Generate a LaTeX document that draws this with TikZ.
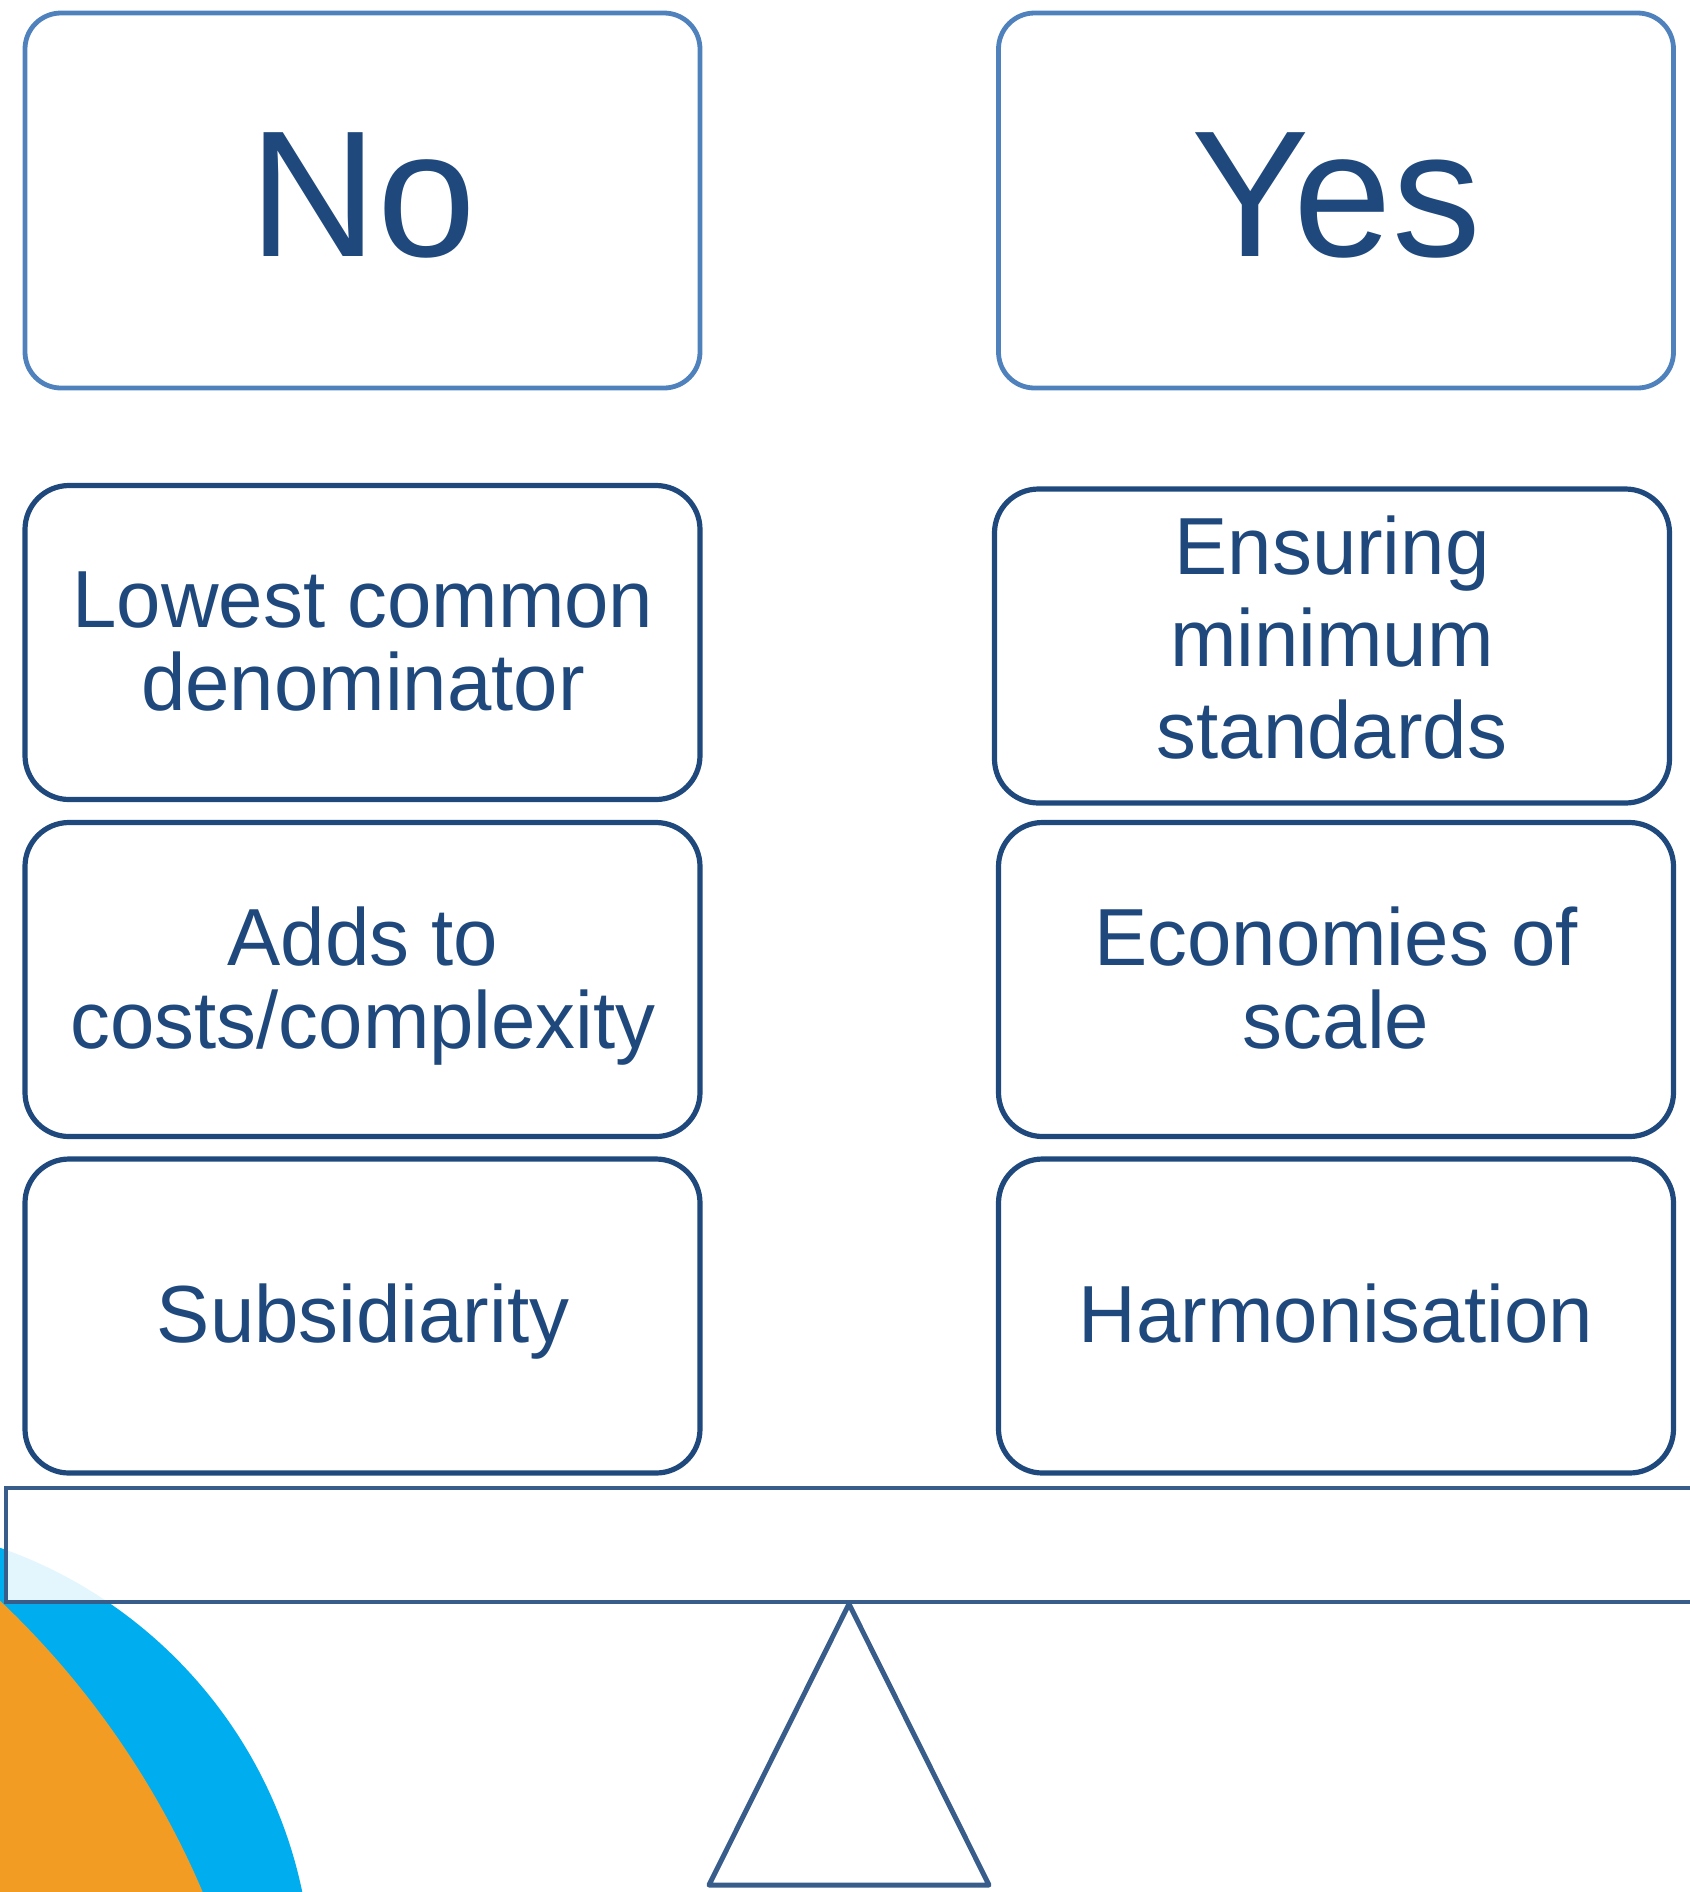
\documentclass[tikz,border=0pt]{standalone}
\usepackage{fontspec}
\setmainfont[FakeStretch=0.985]{Liberation Sans}
\definecolor{navy}{HTML}{1F497D}
\definecolor{topblue}{HTML}{4F81BD}
\definecolor{beamc}{HTML}{385D8A}
\definecolor{arcblue}{HTML}{00AEEF}
\definecolor{arcorange}{HTML}{F29C24}
\begin{document}
\begin{tikzpicture}[x=0.5pt,y=-0.5pt,
  topbox/.style={draw=topblue, line width=2.4pt, rounded corners=18pt, minimum width=337.5pt, minimum height=187.5pt, inner sep=0pt},
  itembox/.style={draw=navy, line width=2.6pt, rounded corners=22pt, minimum width=337.5pt, minimum height=157pt, inner sep=0pt},
  bigtxt/.style={text=navy, font=\fontsize{90}{100}\selectfont, anchor=base, inner sep=0pt},
  txt/.style={text=navy, font=\fontsize{40.5}{41}\selectfont, anchor=base, inner sep=0pt},
  txtwide/.style={text=navy, font=\fontsize{40.5}{46}\selectfont, anchor=base, inner sep=0pt},
  beamstyle/.style={draw=beamc, line width=2.2pt, fill=white, fill opacity=0.89, minimum width=847pt, minimum height=57pt, inner sep=0pt},
  fulcrum/.style={draw=beamc, line width=2.5pt, line join=round}]
\useasboundingbox (0,0) rectangle (1690,1892);
\clip (0,0) rectangle (1690,1892);
% decorative arcs
\fill[arcblue] (-153,1987) circle[radius=232.5pt];
\fill[arcorange] (-599,2233) circle[radius=435.5pt];
% beam
\node[beamstyle] (beam) at (853,1545) {};
% fulcrum
\coordinate (apex) at (849,1604);
\coordinate (bl) at (709,1885);
\coordinate (br) at (989,1885);
\draw[fulcrum] (apex) -- (bl) -- (br) -- cycle;
% headers
\node[topbox] (nobox) at (362.5,200.5) {};
\node[bigtxt] (notxt) at (363,256) {No};
\node[topbox] (yesbox) at (1336,200.5) {};
\node[bigtxt] (yestxt) at (1336,256) {Yes};
% left column
\node[itembox] (lcd) at (362.5,642.5) {};
\node[txt] (lcdtxt) at (363,627) {\begin{tabular}[t]{@{}c@{}}Lowest common\\denominator\end{tabular}};
\node[itembox] (adds) at (362.5,979.5) {};
\node[txt] (addstxt) at (363,965) {\begin{tabular}[t]{@{}c@{}}Adds to\\costs/complexity\end{tabular}};
\node[itembox] (subs) at (362.5,1316) {};
\node[txt] (substxt) at (363,1342) {Subsidiarity};
% right column
\node[itembox] (ens) at (1332,646) {};
\node[txtwide] (enstxt) at (1332,574) {\begin{tabular}[t]{@{}c@{}}Ensuring\\minimum\\standards\end{tabular}};
\node[itembox] (eco) at (1336,979.5) {};
\node[txt] (ecotxt) at (1336,965) {\begin{tabular}[t]{@{}c@{}}Economies of\\scale\end{tabular}};
\node[itembox] (harm) at (1336,1316) {};
\node[txt] (harmtxt) at (1336,1342) {Harmonisation};
\end{tikzpicture}
\end{document}
